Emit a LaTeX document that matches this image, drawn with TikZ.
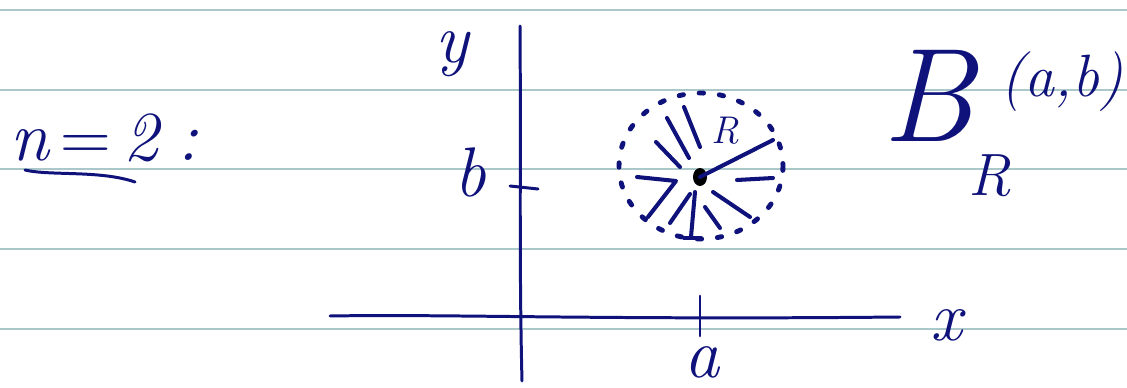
\documentclass[tikz,border=0pt]{standalone}
\usepackage{tikz}
\usetikzlibrary{positioning}
\definecolor{ink}{RGB}{14,18,122}
\definecolor{rule}{RGB}{170,200,202}

\begin{document}
\begin{tikzpicture}[
  x=0.02cm, y=-0.02cm,
  pen/.style={draw=ink,line width=1.7pt,line cap=round,line join=round},
  hatch/.style={pen,line width=2.3pt},
  ruled/.style={draw=rule,line width=1.5pt},
  ink/.style={text=ink,inner sep=0pt},
  big/.style={ink,font=\fontsize{40}{40}\selectfont\itshape},
  mid/.style={ink,font=\fontsize{34}{34}\selectfont\itshape},
  huge/.style={ink,font=\fontsize{76}{76}\selectfont\itshape},
  small/.style={ink,font=\fontsize{22}{22}\selectfont\itshape}
]
\useasboundingbox (0,0) rectangle (1127,388);
% ruled paper
\foreach \yy in {10,90,169,249,329}
  \draw[ruled] (0,\yy) -- (1127,\yy);

% axes
\coordinate (ytop) at (520,26);
\coordinate (ybot) at (522,381);
\coordinate (xleft) at (330,316);
\coordinate (xright) at (900,317);
\draw[pen] (ytop) .. controls (521,150) and (519,260) .. (ybot);
\draw[pen] (xleft) .. controls (450,314) and (600,320) .. (xright);
\node[big] (lblY) at (452,54) {y};
\node[big] (lblX) at (946,325) {x};

% ticks a and b
\coordinate (aup) at (700,296);
\coordinate (adown) at (700,336);
\draw[pen] (aup) -- (adown);
\node[big] (lblA) at (702,362) {a};
\coordinate (bleft) at (510,186);
\coordinate (bright) at (538,189);
\draw[pen] (bleft) -- (bright);
\node[big] (lblB) at (470,172) {b};

% the ball
\coordinate (ctr) at (700,177);
\draw[pen,line width=2.8pt,dash pattern=on 2.5pt off 9pt] (701,166) ellipse [x radius=82,y radius=73];
\fill[ink] (ctr) ellipse [x radius=7,y radius=9];
\coordinate (rim) at (773,140);
\draw[hatch] (ctr) -- (rim);
\node[small] (lblR) at (725,131) {R};
\draw[hatch] (656,142) -- (680,167);
\draw[hatch] (667,118) -- (689,158);
\draw[hatch] (684,107) -- (700,147);
\draw[hatch] (637,177) -- (676,181) -- (648,217);
\draw[hatch] (690,194) -- (670,223);
\draw[hatch] (695,192) -- (691,237);
\draw[hatch] (684,238) -- (701,238);
\draw[hatch] (705,207) -- (720,228);
\draw[hatch] (713,192) -- (750,217);
\draw[hatch] (737,180) -- (773,178);

% heading n = 2
\node[big,anchor=west] (caseN) at (10,138) {n\,{\upshape=}\,2\;:};
\coordinate (ulA) at (25,170);
\coordinate (ulB) at (135,182);
\draw[pen] (ulA) .. controls (50,176) and (100,170) .. (ulB);

% name of the ball
\node[huge] (ballB) at (928,96) {B};
\node[mid] (ballR) at (990,176) {R};
\node[mid] (ballCentre) at (1062,82) {(a,b)};
\end{tikzpicture}
\end{document}
